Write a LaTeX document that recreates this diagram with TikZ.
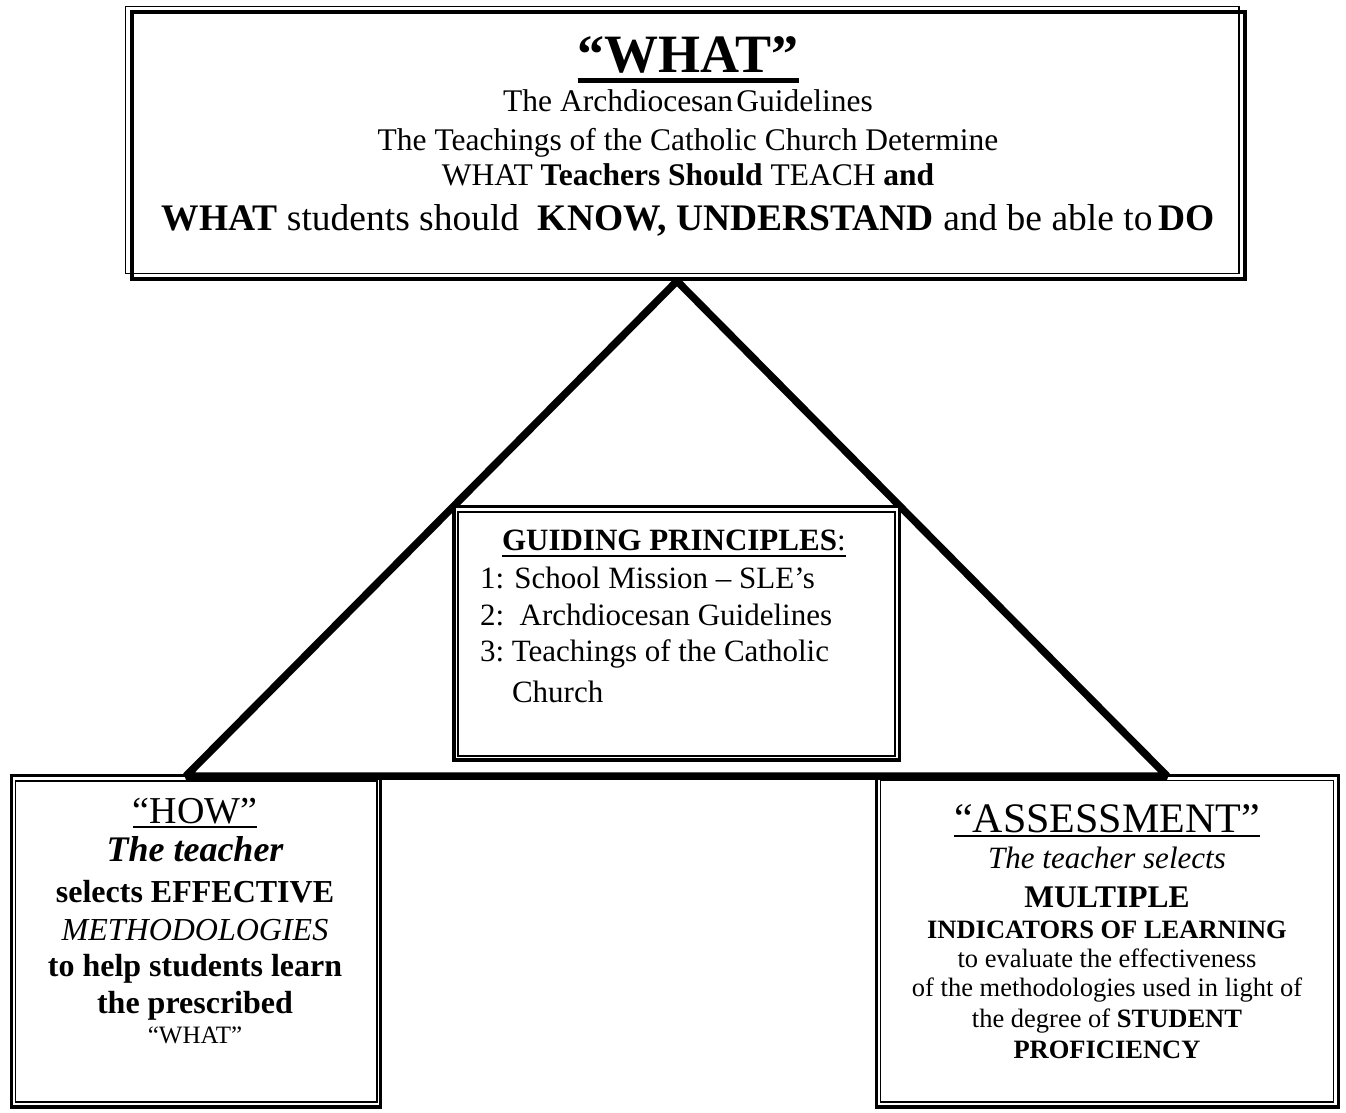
\documentclass[tikz,border=0pt]{standalone}
\usepackage{fontspec}
\setmainfont{Liberation Serif}
\newcommand\myfs[1]{\fontsize{#1pt}{#1pt}\selectfont}
\begin{document}
\begin{tikzpicture}[x=1pt,y=-1pt,
  txt/.style={inner sep=0pt, outer sep=0pt, anchor=base},
  txtl/.style={inner sep=0pt, outer sep=0pt, anchor=base west},
  thickb/.style={line width=3.5pt},
  thinb/.style={line width=1.5pt},
  tri/.style={line width=7.5pt, line join=bevel},
  uline/.style={line width=2pt}]
\useasboundingbox (0,0) rectangle (1346,1113);
\fill[white] (0,0) rectangle (1346,1113);

% top box
\draw[thinb] (125.5,6.5) rectangle (1239,273.5);
\draw[line width=4pt] (132,12.5) rectangle (1245,278.5);

% triangle
\coordinate (apex) at (677,281);
\coordinate (bl) at (186,776);
\coordinate (br) at (1167,776);
\draw[tri] (bl) -- (apex) -- (br) -- cycle;

% centre box
\draw[thickb, fill=white] (454,506.5) rectangle (899.5,760);
\draw[thinb] (458,512) rectangle (895,756);

% left box
\draw[thickb] (11.5,775.5) rectangle (380.5,1107);
\draw[thinb] (15.5,781) rectangle (377,1102);

% right box
\draw[thickb] (876.5,775.5) rectangle (1338.5,1107);
\draw[thinb] (880.5,780.5) rectangle (1333.5,1102);

% top texts
\node[txt] (what) at (688,73) {\myfs{54}\bfseries “WHAT”};
\draw[line width=5pt] ([yshift=-7.5pt]what.base west) -- ([yshift=-7.5pt]what.base east);
\node[txt] (l1) at (688,112) {\myfs{31.5}The Archdiocesan\hspace{0.1em}Guidelines};
\node[txt] (l2) at (688,150) {\myfs{31.5}The Teachings of the Catholic Church Determine};
\node[txt] (l3) at (688,185) {\myfs{31.5}WHAT \textbf{Teachers Should} TEACH \textbf{and}};
\node[txt] (l4) at (688,230) {\myfs{37.5}\textbf{WHAT} students should\ \ \textbf{KNOW, UNDERSTAND} and be able to\hspace{0.15em}\textbf{DO}};

% centre texts
\node[txtl] (gp) at (502,550) {\myfs{31}\textbf{GUIDING PRINCIPLES}:};
\draw[uline] ([yshift=-6pt]gp.base west) -- ([yshift=-6pt]gp.base east);
\node[txtl] (g1) at (480,588) {\myfs{31}1: School Mission – SLE’s};
\node[txtl] (g2) at (480,625) {\myfs{31}2:\ \ Archdiocesan Guidelines};
\node[txtl] (g3) at (480,661) {\myfs{31}3:\ Teachings of the Catholic};
\node[txtl] (g4) at (512,702) {\myfs{31}Church};

% left texts
\node[txt] (h0) at (195,823) {\myfs{38}“HOW”};
\draw[uline] ([yshift=-4pt]h0.base west) -- ([yshift=-4pt]h0.base east);
\node[txt] (h1) at (195,861) {\myfs{36}\bfseries\itshape The teacher};
\node[txt] (h2) at (195,902) {\myfs{32}\bfseries selects EFFECTIVE};
\node[txt] (h3) at (195,940) {\myfs{32}\itshape METHODOLOGIES};
\node[txt] (h4) at (195,976) {\myfs{32}\bfseries to help students learn};
\node[txt] (h5) at (195,1013) {\myfs{32}\bfseries the prescribed};
\node[txt] (h6) at (195,1043) {\myfs{25}“WHAT”};

% right texts
\node[txt] (a0) at (1107,832) {\myfs{42}“ASSESSMENT”};
\draw[uline] ([yshift=-4pt]a0.base west) -- ([yshift=-4pt]a0.base east);
\node[txt] (a1) at (1107,868) {\myfs{31}\itshape The teacher selects};
\node[txt] (a2) at (1107,907) {\myfs{31.5}\bfseries MULTIPLE};
\node[txt] (a3) at (1107,938) {\myfs{26.5}\bfseries INDICATORS OF LEARNING};
\node[txt] (a4) at (1107,967) {\myfs{26.5}to evaluate the effectiveness};
\node[txt] (a5) at (1107,996) {\myfs{26.5}of the methodologies used in light of};
\node[txt] (a6) at (1107,1027) {\myfs{26.5}the degree of \textbf{STUDENT}};
\node[txt] (a7) at (1107,1058) {\myfs{26.5}\bfseries PROFICIENCY};
\end{tikzpicture}
\end{document}
